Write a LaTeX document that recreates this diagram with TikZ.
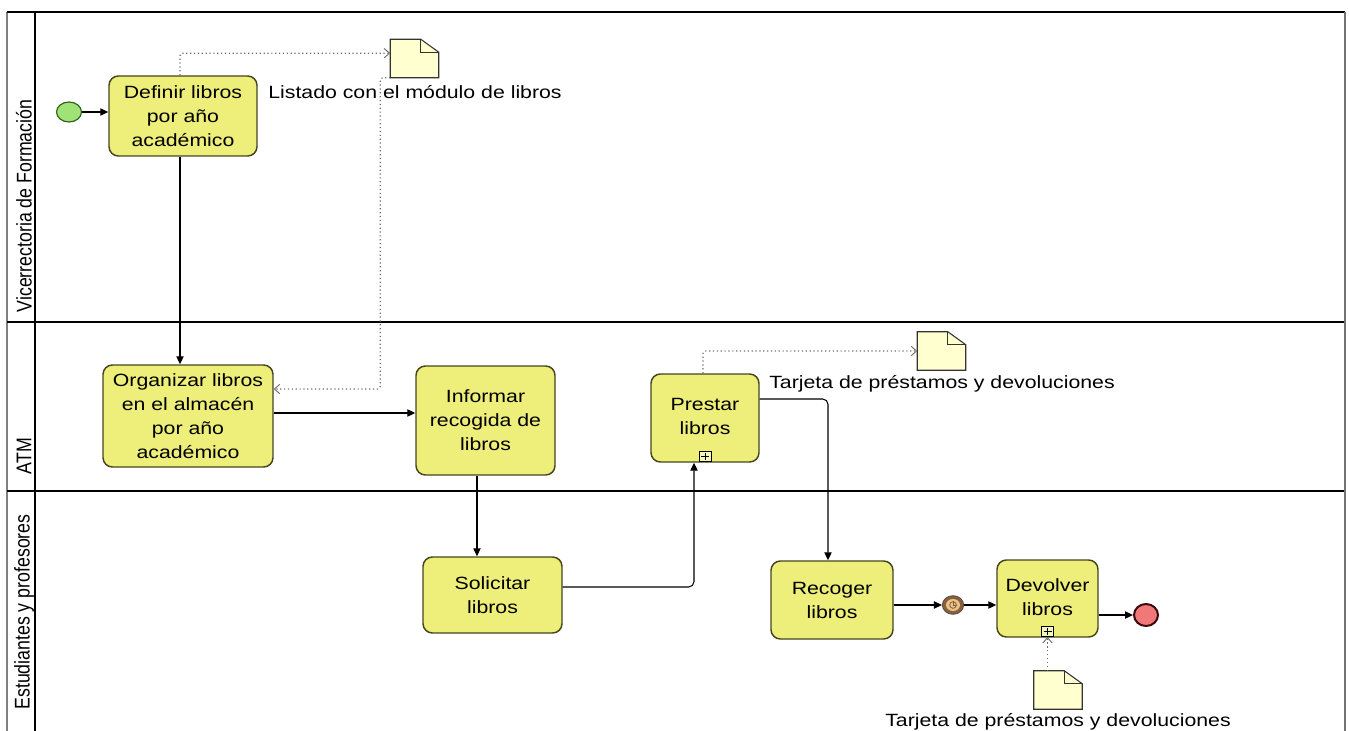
\documentclass[tikz,border=0pt]{standalone}
\usepackage{graphicx}
\usepackage{fontspec}
\setmainfont{Liberation Sans}[FakeStretch=1.2]
\newfontfamily\lanefont{Liberation Sans}
\usetikzlibrary{arrows.meta,shapes.geometric}
\definecolor{boxfill}{RGB}{238,238,122}
\definecolor{boxline}{RGB}{70,70,30}
\definecolor{docfill}{RGB}{255,255,208}
\definecolor{startfill}{RGB}{160,226,120}
\definecolor{startline}{RGB}{50,100,30}
\definecolor{endfill}{RGB}{240,120,120}
\definecolor{endline}{RGB}{60,10,10}
\definecolor{timerout}{RGB}{140,95,55}
\definecolor{timerin}{RGB}{230,195,140}
\definecolor{assoc}{RGB}{110,110,110}
\begin{document}
\begin{tikzpicture}[x=0.75pt,y=-0.75pt,
  task/.style={draw=boxline, fill=boxfill, line width=1.1pt, rounded corners=7pt,
    align=center, font=\fontsize{13.3}{18}\selectfont, inner sep=0pt},
  docbox/.style={minimum width=36pt, minimum height=28.5pt, inner sep=0pt},
  docline/.style={draw=black!80, fill=docfill, line width=0.8pt},
  doclabel/.style={font=\fontsize{13.3}{16}\selectfont, inner sep=0pt},
  lanelbl/.style={font=\lanefont\fontsize{13.3}{16}\selectfont, inner sep=0pt, rotate=90},
  flow/.style={draw=black, line width=0.8pt, -{Triangle[length=6pt,width=5.5pt]}},
  assocline/.style={draw=assoc, line width=0.9pt, dotted, rounded corners=2pt,
    -{Straight Barb[length=4pt,width=7pt,line width=0.7pt]}},
  marker/.style={draw=black, line width=0.6pt, fill=white!50!boxfill, minimum width=9pt,
    minimum height=7.5pt, inner sep=0pt,
    path picture={\draw[line width=0.6pt]
      ([xshift=-3pt]path picture bounding box.center) -- ([xshift=3pt]path picture bounding box.center)
      ([yshift=-2.5pt]path picture bounding box.center) -- ([yshift=2.5pt]path picture bounding box.center);}}
]
\useasboundingbox (0,0) rectangle (1349,731);
% pool frame
\draw[gray, line width=1pt] (7,12) -- (7,731);
\draw[black, line width=1.4pt] (35,12) -- (35,731);
\draw[black, line width=1pt] (7,12) -- (1345,12);
\draw[black, line width=0.8pt] (7,322) -- (1345,322);
\draw[black, line width=0.8pt] (7,491) -- (1345,491);
\draw[black!55, line width=2.2pt] (1345,12) -- (1345,731);
% lane labels
\node[lanelbl] (lane1) at (24,206) {\scalebox{1}[1.2]{Vicerrectoria de Formación}};
\node[lanelbl] (lane2) at (24,456) {\scalebox{1}[1.2]{ATM}};
\node[lanelbl] (lane3) at (24,612) {\scalebox{1}[1.2]{Estudiantes y profesores}};
% events
\node[ellipse, draw=startline, fill=startfill, line width=0.9pt, minimum width=18.75pt, minimum height=15pt, inner sep=0pt] (st) at (69,112) {};
\node[ellipse, draw=black!70, fill=timerout, line width=0.6pt, minimum width=16pt, minimum height=14pt, inner sep=0pt] (tim) at (953,605) {};
\node[ellipse, fill=timerin, minimum width=10.5pt, minimum height=9pt, inner sep=0pt] (timin) at (tim.center) {};
\node[circle, draw=timerout, line width=0.6pt, minimum size=5pt, inner sep=0pt] (clk) at (tim.center) {};
\draw[timerout, line width=0.5pt] (clk.center) -- (clk.north) (clk.center) -- (clk.east);
\node[ellipse, draw=endline, fill=endfill, line width=1.5pt, minimum width=18pt, minimum height=16.5pt, inner sep=0pt] (en) at (1146,615) {};
% tasks
\node[task, minimum width=111pt, minimum height=60pt] (def) at (183,116) {Definir libros\\por año\\académico};
\node[task, minimum width=127.5pt, minimum height=76.5pt] (org) at (188,416) {Organizar libros\\en el almacén\\por año\\académico};
\node[task, minimum width=104.25pt, minimum height=81.75pt] (inf) at (485.5,420.5) {Informar\\recogida de\\libros};
\node[task, minimum width=81pt, minimum height=66pt] (pre) at (705,418) {\raisebox{3pt}{\begin{tabular}{@{}c@{}}Prestar\\libros\end{tabular}}};
\node[task, minimum width=104.25pt, minimum height=57pt] (sol) at (492.5,595) {Solicitar\\libros};
\node[task, minimum width=91.5pt, minimum height=58.5pt] (rec) at (832,600) {Recoger\\libros};
\node[task, minimum width=75.75pt, minimum height=57.75pt] (dev) at (1047.5,598.5) {\raisebox{2.5pt}{\begin{tabular}{@{}c@{}}Devolver\\libros\end{tabular}}};
\node[marker, anchor=south] (pm1) at ([yshift=0.6pt]pre.south) {};
\node[marker, anchor=south] (pm2) at ([yshift=0.6pt]dev.south) {};
% documents
\node[docbox] (d1) at (414.5,58.5) {};
\node[docbox] (d2) at (941.5,351) {};
\node[docbox] (d3) at (1058,690) {};
\foreach \d in {d1,d2,d3} {
  \filldraw[docline] (\d.south west) -- (\d.north west) -- ([xshift=-13.5pt]\d.north east)
    -- ([yshift=-9.75pt]\d.north east) -- (\d.south east) -- cycle;
  \draw[docline, fill=none] ([xshift=-13.5pt]\d.north east) |- ([yshift=-9.75pt]\d.north east);
}
\node[doclabel] (t1) at (415,92) {Listado con el módulo de libros};
\node[doclabel] (t2) at (942,384) {Tarjeta de préstamos y devoluciones};
\node[doclabel] (t3) at (1058,722) {Tarjeta de préstamos y devoluciones};
% sequence flows
\draw[flow] (st) -- (def.west |- st);
\draw[flow] ([xshift=-2.25pt]def.south) -- ([xshift=-2.25pt]def.south |- org.north);
\draw[flow] ([yshift=2.25pt]org.east) -- ([yshift=2.25pt]org.east -| inf.west);
\draw[flow] ([xshift=-6.4pt]inf.south) -- ([xshift=-6.4pt]inf.south |- sol.north);
\draw[flow, rounded corners=4pt] ([yshift=6pt]sol.east) -| ([xshift=-8.25pt]pre.south);
\draw[flow, rounded corners=4pt] ([yshift=14.25pt]pre.east) -| ([xshift=-3pt]rec.north);
\draw[flow] (tim -| rec.east) -- (tim);
\draw[flow] (tim) -- (tim -| dev.west);
\draw[flow] (en -| dev.east) -- (en);
% associations
\draw[assocline] ([xshift=-2.25pt]def.north) |- ([yshift=4pt]d1.west);
\draw[assocline] (d1.south west) -- ++(-10,0) |- ([yshift=20.25pt]org.east);
\draw[assocline] ([xshift=-1.5pt]pre.north) |- (d2.west);
\draw[assocline] (d3.north -| pm2.south) -- (pm2.south);
\end{tikzpicture}
\end{document}
